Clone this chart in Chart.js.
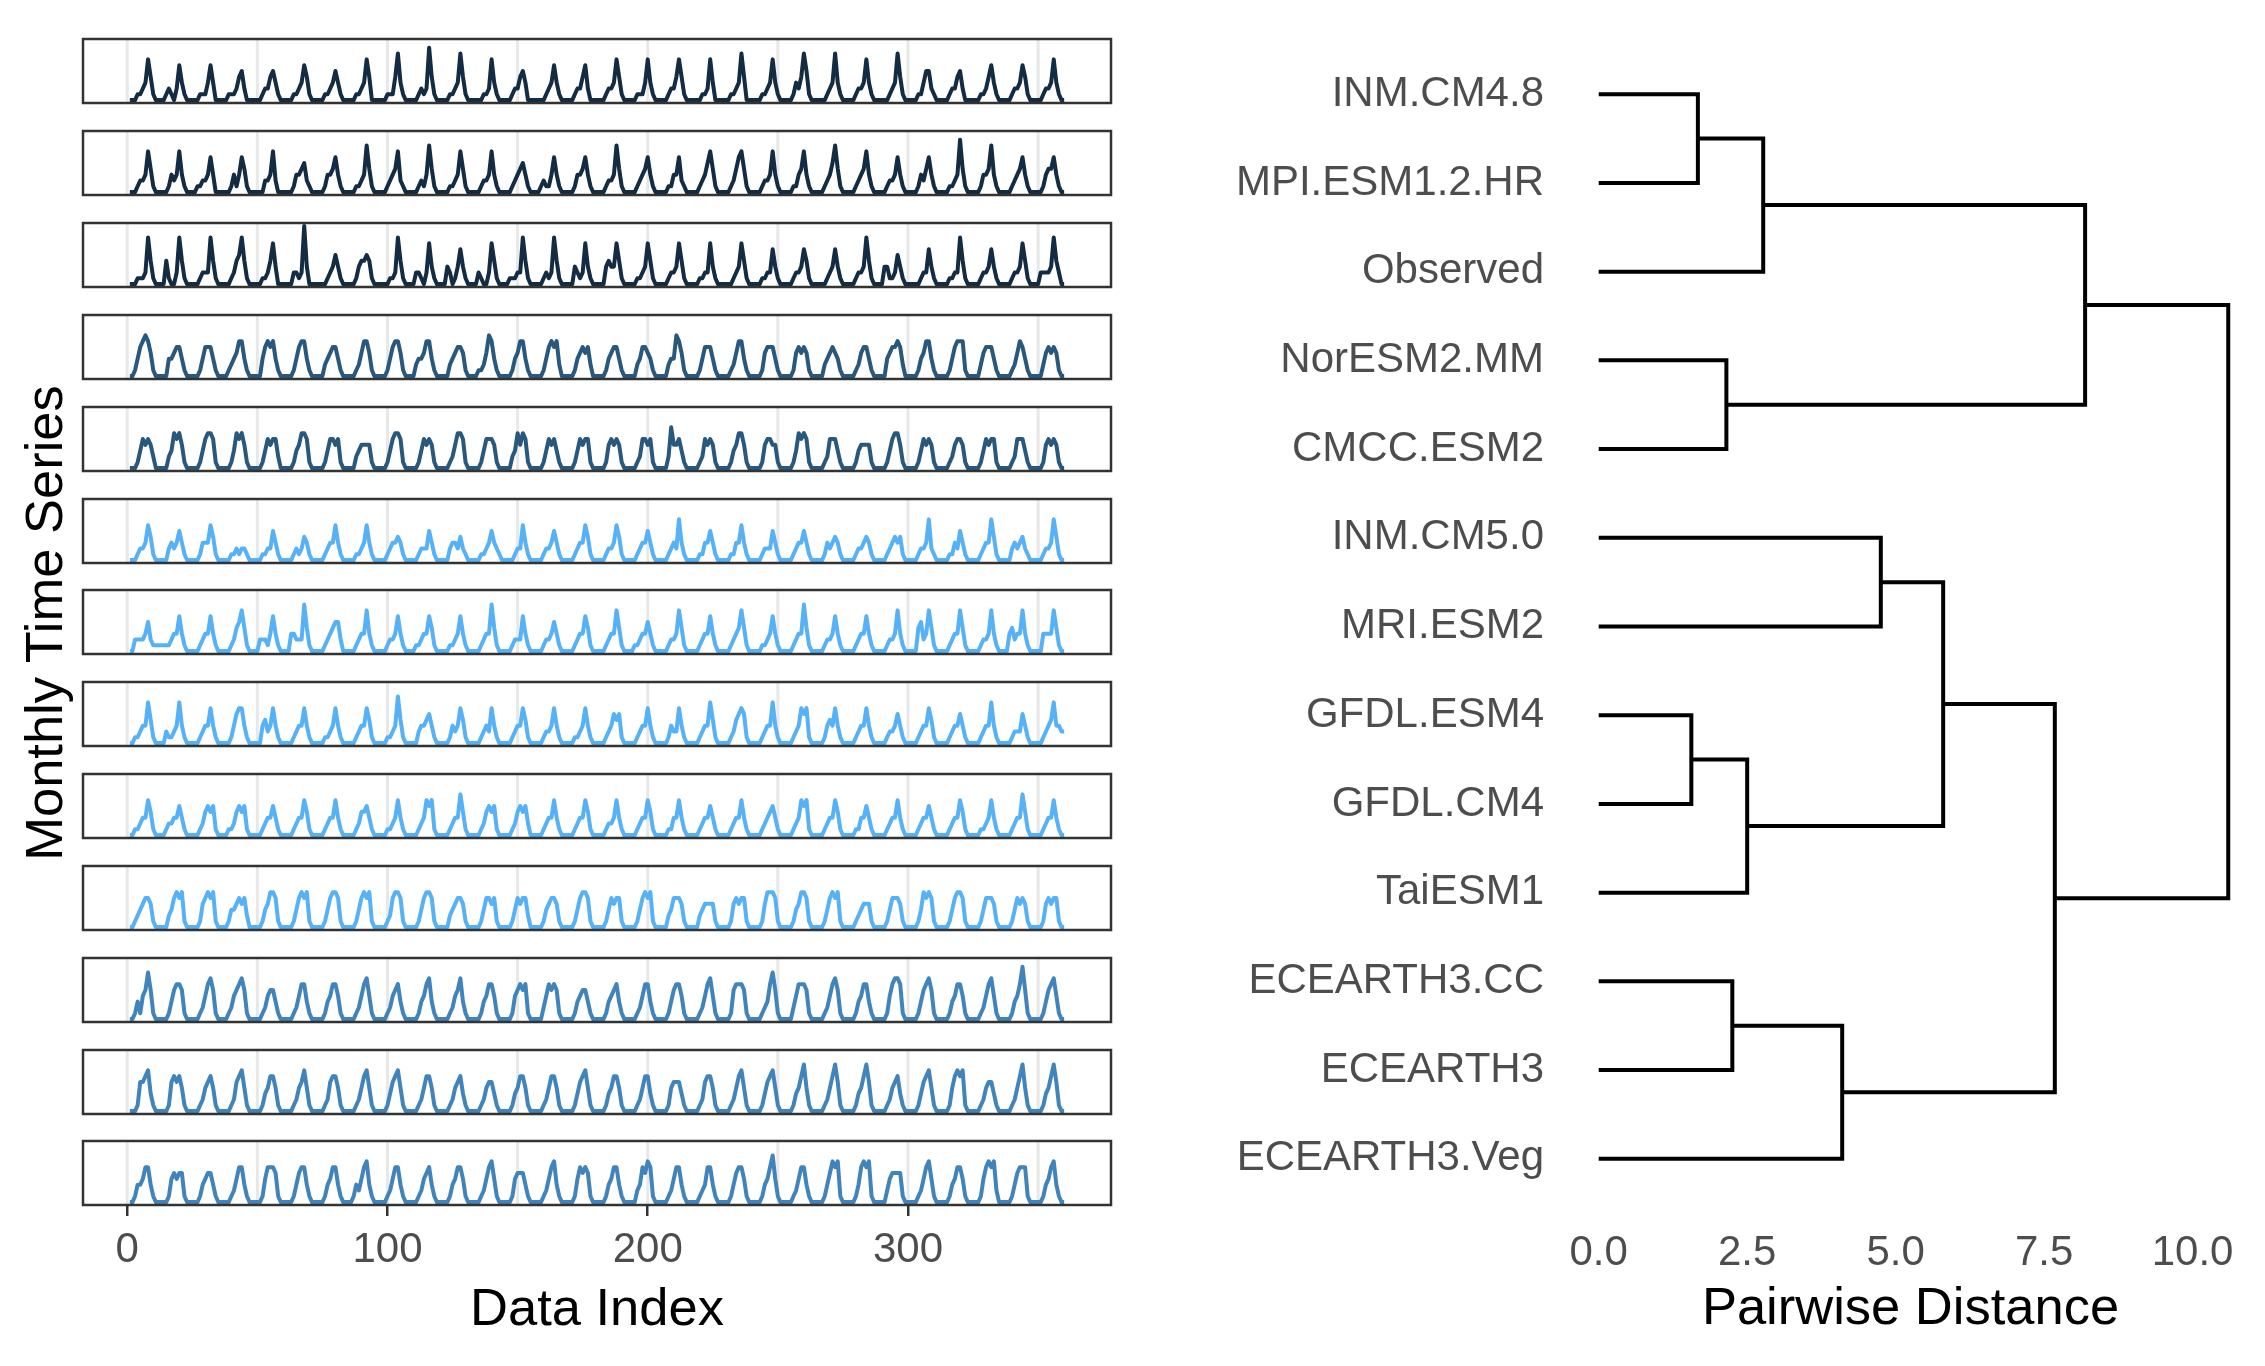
<!DOCTYPE html>
<html>
<head>
<meta charset="utf-8">
<script src="https://cdn.jsdelivr.net/npm/chart.js@4.4.1/dist/chart.umd.min.js"></script>
<style>
  html, body { margin: 0; padding: 0; background: #fff; }
  body { width: 2265px; height: 1366px; position: relative; overflow: hidden; font-family: 'Liberation Sans', Arial, sans-serif; }
  canvas { position: absolute; }
  .axis-title { position: absolute; font-size: 52.5px; line-height: 1; color: #000; white-space: nowrap; transform: translate(-50%, -50%); }
</style>
</head>
<body>
<div class="axis-title" style="left:597px; top:1307px;">Data Index</div>
<div class="axis-title" style="left:44px; top:623px; transform: translate(-50%, -50%) rotate(-90deg);">Monthly Time Series</div>
<canvas id="dendro" width="1085" height="1406" style="left:1180px; top:-40px;"></canvas>
<script>
// leaf order of the dendrogram = order of the panels, top to bottom
const modelNames = ['INM.CM4.8', 'MPI.ESM1.2.HR', 'Observed', 'NorESM2.MM', 'CMCC.ESM2',
  'INM.CM5.0', 'MRI.ESM2', 'GFDL.ESM4', 'GFDL.CM4', 'TaiESM1',
  'ECEARTH3.CC', 'ECEARTH3', 'ECEARTH3.Veg'];

const clusterColors = ['#132B43', '#132B43', '#132B43', '#29587F', '#29587F',
  '#56B1F7', '#56B1F7', '#56B1F7', '#56B1F7', '#56B1F7',
  '#4084BB', '#4084BB', '#4084BB'];

// monthly values, one char per month (base 36, so 'a' = 10), one group of 12 per year
const inmCm48 = '000112374100 001210263100 000111363000 001112452000 000122453100 000112364100 000112353100 000112374000 000111483100 000121294100 000112384100 000011273100 000122453000 000012363100 000122462000 000122374100 000111373100 000122474100 000011273000 000112384000 000112373100 000132485100 000012383100 000122373100 000012384100 000113552100 000122452000 000112463100 000122364100 000122373100';
const mpiEsm12Hr = '000122374100 000132373100 001122363000 000131364100 000022372000 000133452100 000133463100 000112384100 000123472100 000121384100 000112374100 000122373100 000123453100 001211363100 000133463100 000122384100 000123463100 000113362100 000123574100 000124674100 000122373100 000113473100 000123584100 000123473100 000122363100 000132463100 000112394100 000133483100 000123463100 000134463100';
const observed = '000111284100 004100284100 000122284100 000124584100 000112473000 0002212a3000 000012353100 000134454100 000011284100 002210273100 003201363100 002100274100 001112284100 000121284100 000321273100 000343374100 000112374100 000122374100 000112273100 000012374100 000112263100 000122364100 000012363100 000122384100 003311253100 000012263100 000112284100 000122363100 000122374100 002222384200';
const norEsm2Mm = '001356764100 000334553100 000135553100 001234663100 000356563100 000135663100 000234553100 000124664100 000135664100 002334663100 000234554100 001124763100 000134663100 000135656200 000134545200 000134553100 000235543100 000233764100 000135553100 000124663100 000145553100 000145454100 000234543100 000124553100 000345565200 000134663100 000135666100 000245553100 000124653100 000245454100';
const cmccEsm2 = '000135454200 000236564100 000135665100 000136564100 000135455200 000134665100 000135545100 000234444100 000135665100 000135454100 000124665100 000135554100 000236465100 000135453100 000135455100 000145454100 000125545100 000274453100 000125454100 000134664100 000145544100 000136565100 000125553100 000134444100 000135664100 000135454100 000124554100 000135455100 000125553100 000145454100';
const inmCm50 = '000122364100 000232353100 000133364100 000112122100 000112253100 000121243100 000123363100 000112363100 000123343100 000122253100 000233242100 000112353210 000012263100 000122353100 000123364100 000122364100 000123353100 000123273100 000113353100 000113363100 000122253100 000123353100 000132343100 000122343100 000123434100 000122372100 000113253100 000123374100 000232342100 000122374100';
const mriEsm2 = '002222352111 111123363100 000123363100 000124574100 002221363100 003322284100 000123455200 000123373100 000122363100 001123364100 000112363100 000123384100 000122263100 000122353100 000123364100 000123374100 001123353100 000122374100 000123363100 000123474100 000112363100 000123384100 000122363100 000123363100 000122373100 000452374100 000123374100 000122373100 003423373100 000333374100';
const gfdlEsm4 = '001123374100 002112373100 000123363100 000135663100 000342363100 000123363100 000112363100 000123364100 000112384100 000233453100 000132364100 000123263100 000123364100 000122363100 000112363100 000123545100 000123363100 000132263100 000123374100 000124565100 000123373100 000123656100 000134363100 000123363100 000122353100 000123364100 000123353100 000123373100 000122253100 000123473322';
const gfdlCm4 = '001123364100 001223353100 000124545100 001124545100 000123353100 000123364100 000123363100 000124453100 000112363100 000123656100 000123374100 000124545100 000124545200 000123363100 000123364100 000122363100 000123364100 000113363100 000123353100 000123363100 000123453100 000123656100 000123364100 000113353100 000123363100 000123353100 000123364100 000112363100 000123374100 000123363100';
const taiEsm1 = '001234554100 000235656100 000145656100 001334545200 000134665100 000135656100 000135665100 000135656100 000125665100 000135665100 000234554100 000135545100 000135455200 000134554100 000135665100 000135455100 000135656100 000235554100 000234444100 000145455100 000146665100 000134665100 000135656100 000123444100 000135554100 000136565100 000135665100 000135554100 000135454100 000145455100';
const ecEarth3Cc = '001314585100 000135665100 000124675100 001245675100 000124553100 000124663100 000134664100 000124674100 000124563100 000134673100 000124573100 000134664100 000145656100 000246565100 000134553100 000134563100 000124663100 000135664100 000124674100 000156665100 000123685100 000246665100 000124675100 000134663100 000146776100 000135675100 000134664100 000124674100 000134695100 000135674100';
const ecEarth3 = '000155673100 000156564100 000124564100 000125674100 000134664100 000124574100 000125664100 000124674100 000135674100 000124664100 000124563100 000124553100 000134664100 000124664100 000135674100 000134664100 000124663100 000145553100 000125664100 000124674100 000135674100 000134684100 000124685100 000134685100 000124563100 000135674100 000146767100 000124553100 000124684100 000134685100';
const ecEarth3Veg = '001334663100 000145455100 000134553100 000124663100 000146665100 000135663100 000134663100 001324673100 000124663100 000124563100 000134664100 000124674100 000145553100 000124673100 000146565100 000134663100 000236576100 000124663100 000123663100 000135664100 000134684100 000124663100 000135767100 000136767100 000245555100 000124674100 000134664100 000146767200 000135666100 000134673100';

const seriesStrings = [inmCm48, mpiEsm12Hr, observed, norEsm2Mm, cmccEsm2, inmCm50, mriEsm2,
  gfdlEsm4, gfdlCm4, taiEsm1, ecEarth3Cc, ecEarth3, ecEarth3Veg];

const indexTicks = [0, 100, 200, 300];
const indexGrid = [0, 50, 100, 150, 200, 250, 300, 350];

// hclust-style merges: negative = leaf (1-based position), positive = earlier merge row
const mergeLeft = [-1, -8, -4, -11, 2, 1, 4, -6, 8, 9, 6, 11];
const mergeRight = [-2, -9, -5, -12, -10, -3, -13, -7, 5, 7, 3, 10];
const mergeHeight = [1.67, 1.56, 2.15, 2.25, 2.50, 2.77, 4.10, 4.75, 5.80, 7.68, 8.19, 10.6];
const distanceTicks = [0, 2.5, 5, 7.5, 10];

Chart.defaults.font.family = "'Liberation Sans', Arial, sans-serif";

function parseSeries(s) {
  return s.replace(/\s+/g, '').split('').map(c => parseInt(c, 36));
}

// grid lines under the data, frame on top
const panelFrame = {
  id: 'panelFrame',
  beforeDatasetsDraw(chart) {
    const { ctx, chartArea: a, scales: { x } } = chart;
    ctx.save();
    ctx.strokeStyle = '#E8E8E8';
    ctx.lineWidth = 3;
    indexGrid.forEach(v => {
      const px = x.getPixelForValue(v);
      ctx.beginPath();
      ctx.moveTo(px, a.top);
      ctx.lineTo(px, a.bottom);
      ctx.stroke();
    });
    ctx.restore();
  },
  afterDatasetsDraw(chart) {
    const { ctx, chartArea: a } = chart;
    ctx.save();
    ctx.strokeStyle = '#333333';
    ctx.lineWidth = 2.5;
    ctx.strokeRect(a.left, a.top, a.right - a.left, a.bottom - a.top);
    ctx.restore();
  }
};

const panelLeft = 83, panelWidth = 1028, panelHeight = 64, axisHeight = 80;

seriesStrings.forEach((s, k) => {
  const last = k === seriesStrings.length - 1;
  const values = parseSeries(s);
  const top = Math.round(39.3 + k * 91.85);
  const cv = document.createElement('canvas');
  cv.width = panelWidth + 8;
  cv.height = panelHeight + 4 + (last ? axisHeight : 4);
  cv.style.left = (panelLeft - 4) + 'px';
  cv.style.top = (top - 4) + 'px';
  document.body.appendChild(cv);

  const xScale = { type: 'linear', min: -17, max: 378, display: false };
  if (last) {
    Object.assign(xScale, {
      display: true,
      afterBuildTicks: sc => { sc.ticks = indexTicks.map(v => ({ value: v })); },
      afterFit: sc => { sc.height = axisHeight; },
      grid: { drawOnChartArea: false, drawTicks: true, tickLength: 11, tickColor: '#333333', tickWidth: 2.5, lineWidth: 2.5 },
      border: { display: false },
      ticks: { font: { size: 42 }, color: '#4D4D4D', padding: 9, autoSkip: false, maxRotation: 0 }
    });
  }

  new Chart(cv, {
    type: 'line',
    data: {
      datasets: [{
        data: values.map((v, i) => ({ x: i + 1, y: v })),
        borderColor: clusterColors[k],
        borderWidth: 4,
        borderJoinStyle: 'round',
        pointRadius: 0,
        tension: 0,
        fill: false
      }]
    },
    options: {
      responsive: false,
      animation: false,
      events: [],
      layout: { padding: { left: 4, right: 4, top: 4, bottom: last ? 0 : 4 } },
      plugins: { legend: { display: false }, tooltip: { enabled: false } },
      scales: {
        x: xScale,
        y: { min: -0.5, max: 10.5, display: false }
      }
    },
    plugins: [panelFrame]
  });
});

// dendrogram segments from the merge table
const nodeY = [], nodeH = [];
function childPos(c) {
  return c < 0 ? { y: -c - 1, h: 0 } : { y: nodeY[c - 1], h: nodeH[c - 1] };
}
const dendroSets = mergeHeight.map((h, i) => {
  const a = childPos(mergeLeft[i]);
  const b = childPos(mergeRight[i]);
  nodeY[i] = (a.y + b.y) / 2;
  nodeH[i] = h;
  return {
    data: [{ x: a.h, y: a.y }, { x: h, y: a.y }, { x: h, y: b.y }, { x: b.h, y: b.y }],
    borderColor: '#000000',
    borderWidth: 4,
    borderJoinStyle: 'miter',
    borderCapStyle: 'butt',
    pointRadius: 0,
    showLine: true,
    tension: 0,
    fill: false
  };
});

new Chart(document.getElementById('dendro'), {
  type: 'scatter',
  data: { datasets: dendroSets },
  options: {
    responsive: false,
    animation: false,
    events: [],
    layout: { padding: { top: 81, right: 13, left: 0, bottom: 0 } },
    plugins: { legend: { display: false }, tooltip: { enabled: false } },
    scales: {
      x: {
        type: 'linear',
        min: -0.5,
        max: 11,
        afterBuildTicks: sc => { sc.ticks = distanceTicks.map(v => ({ value: v })); },
        afterFit: sc => { sc.height = 154; },
        grid: { display: false },
        border: { display: false },
        ticks: {
          font: { size: 42 }, color: '#4D4D4D', padding: 8, autoSkip: false, maxRotation: 0,
          callback: v => v.toFixed(1)
        },
        title: { display: true, text: 'Pairwise Distance', color: '#000000', font: { size: 52.5 }, padding: { top: 0, bottom: 25 } }
      },
      y: {
        type: 'linear',
        reverse: true,
        min: -0.6,
        max: 12.6,
        afterBuildTicks: sc => { sc.ticks = modelNames.map((_, i) => ({ value: i })); },
        afterFit: sc => { sc.width = 389; },
        grid: { display: false },
        border: { display: false },
        ticks: {
          font: { size: 42 }, color: '#4D4D4D', padding: 17, autoSkip: false,
          callback: v => modelNames[v]
        }
      }
    }
  }
});
</script>
</body>
</html>
